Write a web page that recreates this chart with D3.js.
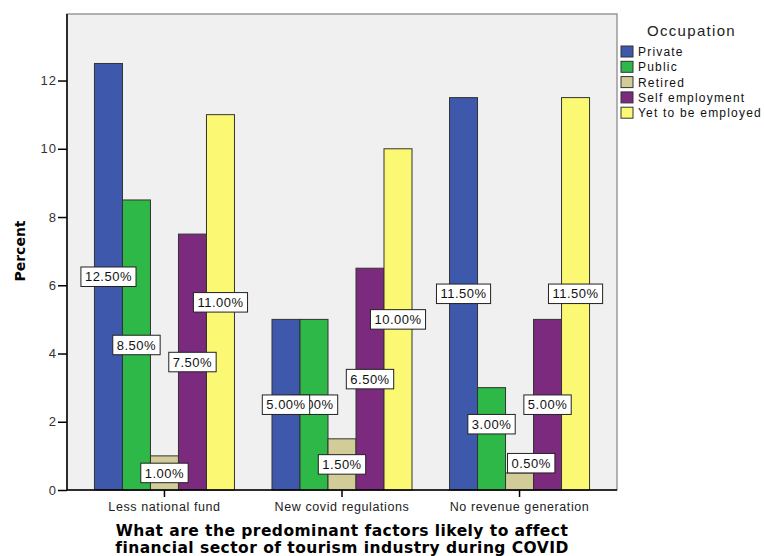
<!DOCTYPE html>
<html>
<head>
<meta charset="utf-8">
<script src="https://cdn.jsdelivr.net/npm/d3@7"></script>
<style>
  body { margin: 0; background: #fff; }
  svg { display: block; }
</style>
</head>
<body>
<script>
const categories = ["Less national fund", "New covid regulations", "No revenue generation"];
const seriesNames = ["Private", "Public", "Retired", "Self employment", "Yet to be employed"];
const seriesColors = ["#3E58AC", "#2EB848", "#D2CC98", "#7B2A7E", "#FBF873"];
const privateVals = [12.5, 5.0, 11.5];
const publicVals = [8.5, 5.0, 3.0];
const retiredVals = [1.0, 1.5, 0.5];
const selfVals = [7.5, 6.5, 5.0];
const yetVals = [11.0, 10.0, 11.5];
const yTicks = [0, 2, 4, 6, 8, 10, 12];
const yMax = 13.95;
const seriesValues = [privateVals, publicVals, retiredVals, selfVals, yetVals];

const W = 764, H = 556;
const pL = 67, pR = 617, pT = 14, pB = 490;
const SANS = "Arial, 'Liberation Sans', sans-serif";

const svg = d3.select("body").append("svg").attr("width", W).attr("height", H);

const x0 = d3.scaleBand().domain(categories).range([pL, pR]).paddingInner(0).paddingOuter(0.049);
const x1 = d3.scaleBand().domain(seriesNames).range([0, x0.bandwidth()]).paddingInner(0).paddingOuter(0.67);
const y = d3.scaleLinear().domain([0, yMax]).range([pB, pT]);

// plot background
svg.append("rect").attr("x", pL).attr("y", pT).attr("width", pR - pL).attr("height", pB - pT)
  .attr("fill", "#F0F0F0").attr("stroke", "#8a8a8a").attr("stroke-width", 1.3);

const data = [];
categories.forEach((c, ci) => {
  seriesNames.forEach((s, si) => {
    data.push({cat: c, ci: ci, ser: s, si: si, v: seriesValues[si][ci]});
  });
});

svg.append("g").selectAll("rect").data(data).join("rect")
  .attr("x", d => x0(d.cat) + x1(d.ser))
  .attr("y", d => y(d.v))
  .attr("width", x1.bandwidth())
  .attr("height", d => y(0) - y(d.v))
  .attr("fill", d => seriesColors[d.si])
  .attr("stroke", "#333").attr("stroke-width", 1);

// axes
const yAxis = d3.axisLeft(y).tickValues(yTicks).tickSize(9).tickPadding(1).tickFormat(d3.format("d"));
const gy = svg.append("g").attr("transform", `translate(${pL},0)`).call(yAxis);
gy.select(".domain").attr("stroke", "#000").attr("stroke-width", 1.5).attr("d", `M0,${pT}V${pB}`);
gy.selectAll(".tick line").attr("stroke", "#000").attr("stroke-width", 1.5);
gy.selectAll(".tick text").attr("font-family", SANS).attr("font-size", 13)
  .attr("letter-spacing", 1).attr("fill", "#333");

const xAxis = d3.axisBottom(x0).tickSize(7).tickPadding(5);
const gx = svg.append("g").attr("transform", `translate(0,${pB})`).call(xAxis);
gx.select(".domain").attr("stroke", "#000").attr("stroke-width", 1.5).attr("d", `M${pL},0H${pR}`);
gx.selectAll(".tick line").attr("stroke", "#000").attr("stroke-width", 1.5);
gx.selectAll(".tick text").attr("font-family", SANS).attr("font-size", 12.5)
  .attr("letter-spacing", 0.6).attr("fill", "#222");

// value labels
const boxH = 19.5;
const fmt = d => d.toFixed(2) + "%";
const measure = svg.append("text").attr("font-family", SANS).attr("font-size", 13).attr("letter-spacing", 0.5);
const labs = data.map(d => {
  measure.text(fmt(d.v));
  const w = measure.node().getComputedTextLength() + 8;
  const bx = x0(d.cat) + x1(d.ser);
  const barH = y(0) - y(d.v);
  let cx = bx + x1.bandwidth() / 2;
  let cy = (y(d.v) + y(0)) / 2;
  if (barH < boxH) {           // too short: put label on top of the bar, left-aligned
    cy = y(d.v) - boxH / 2;
    cx = bx + 2 + w / 2;
  }
  return {d, w, cx, cy};
});
measure.remove();

// simple collision: if a label overlaps horizontally with a lower-valued neighbour's label
// and sits too close vertically, push it up
categories.forEach((c, ci) => {
  const grp = labs.filter(l => l.d.ci === ci);
  for (let pass = 0; pass < 3; pass++) {
    grp.forEach(a => grp.forEach(b => {
      if (a === b || a.d.v <= b.d.v) return;
      const hOverlap = Math.abs(a.cx - b.cx) < (a.w + b.w) / 2;
      if (!hOverlap) return;
      const gap = (b.cy - boxH / 2) - (a.cy + boxH / 2);
      if (gap >= 0 && gap < boxH) {
        a.cy = b.cy - 2 * boxH;
      }
    }));
  }
});

const labels = svg.append("g");
labs.slice().sort((a, b) => b.d.si - a.d.si).forEach(l => {
  const g = labels.append("g");
  g.append("rect").attr("x", l.cx - l.w / 2).attr("y", l.cy - boxH / 2).attr("width", l.w).attr("height", boxH)
    .attr("fill", "#fff").attr("stroke", "#222").attr("stroke-width", 1);
  g.append("text").attr("x", l.cx).attr("y", l.cy + 4.7)
    .attr("text-anchor", "middle")
    .attr("font-family", SANS).attr("font-size", 13).attr("letter-spacing", 0.5).attr("fill", "#111")
    .text(fmt(l.d.v));
});

// y title
svg.append("text").attr("transform", `translate(25,${251}) rotate(-90)`)
  .attr("text-anchor", "middle").attr("font-family", "'DejaVu Sans', Verdana, sans-serif")
  .attr("font-weight", "bold").attr("font-size", 14).attr("fill", "#000").text("Percent");

// x title
const xt = svg.append("text").attr("text-anchor", "middle").attr("font-family", "'DejaVu Sans', Verdana, sans-serif")
  .attr("font-weight", "bold").attr("font-size", 15.5).attr("letter-spacing", 0.45).attr("fill", "#000");
xt.append("tspan").attr("x", 342).attr("y", 535.5).text("What are the predominant factors likely to affect");
xt.append("tspan").attr("x", 342).attr("y", 552.5).text("financial sector of tourism industry during COVID");

// legend
const lg = svg.append("g");
lg.append("text").attr("x", 691.5).attr("y", 36).attr("text-anchor", "middle")
  .attr("font-family", SANS).attr("font-size", 15).attr("letter-spacing", 1.3).attr("fill", "#222").text("Occupation");
seriesNames.forEach((s, i) => {
  const yy = 46 + i * 15.3;
  lg.append("rect").attr("x", 621).attr("y", yy).attr("width", 12).attr("height", 11)
    .attr("fill", seriesColors[i]).attr("stroke", "#333").attr("stroke-width", 1);
  lg.append("text").attr("x", 638).attr("y", yy + 10).attr("font-family", SANS)
    .attr("font-size", 12).attr("letter-spacing", 1.2).attr("fill", "#111").text(s);
});
</script>
</body>
</html>
